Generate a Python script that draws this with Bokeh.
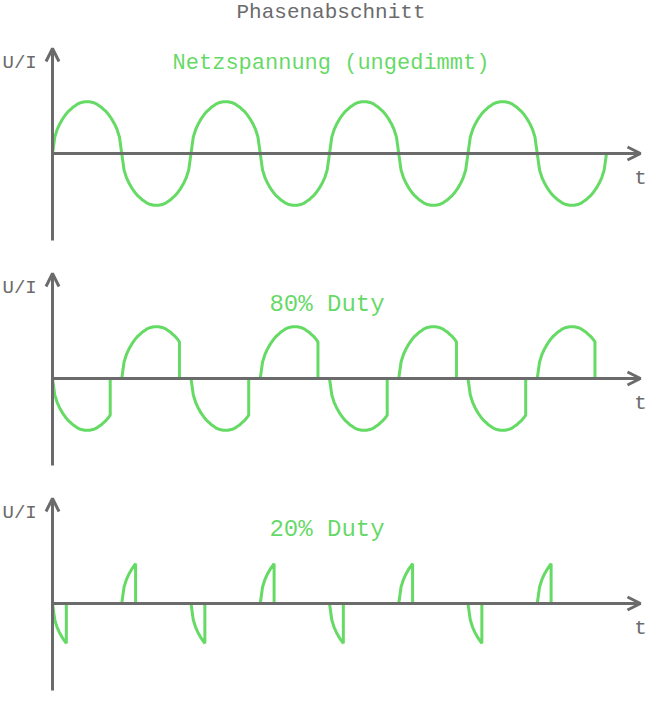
from bokeh.plotting import figure
from bokeh.models import Range1d, Arrow, OpenHead, Label, ColumnDataSource
from bokeh.embed import file_html
from bokeh.resources import INLINE

# ---------------- data ----------------
main_title = "Phasenabschnitt"
panel_titles = ["Netzspannung (ungedimmt)", "80% Duty", "20% Duty"]
y_label = "U/I"
x_label = "t"
# one half cycle of the (flat-topped) mains waveform, 30 steps per half cycle
half_wave = [0.0, 0.32, 0.46, 0.56, 0.64, 0.71, 0.77, 0.82, 0.86, 0.90, 0.93,
             0.96, 0.98, 0.99, 1.00, 1.00, 1.00, 0.99, 0.98, 0.96, 0.93, 0.90,
             0.86, 0.82, 0.77, 0.71, 0.64, 0.56, 0.46, 0.32, 0.0]
conducted_steps = [30, 25, 6]      # steps of each half cycle that are let through
start_polarity = [1, -1, -1]
n_half_cycles = 8

# ---------------- style / geometry ----------------
GRAY = "#6b6b6b"
GREEN = "#32cd32"
FONT = "Liberation Mono"
W, H = 650, 725
OFF = 0               # image offset of the figure
PX_T = 69.25          # pixels per half period
PX_U = 51.7           # pixels per amplitude unit
ORIGIN_X = 52         # image x of the time origin
ZERO_Y = [153, 378, 603]   # image y of each zero line
TITLE_SIZES = ["22px", "24px", "24px"]


def build(n_on, pol):
    n = len(half_wave) - 1
    xs, ys = [], []
    for h in range(n_half_cycles):
        s = pol if h % 2 == 0 else -pol
        for k in range(n_on + 1):
            xs.append(h + k / n)
            ys.append(s * half_wave[k])
        if n_on < n:
            xs.append(h + n_on / n)
            ys.append(0.0)
    if n_on < n:
        xs.append(float(n_half_cycles))
        ys.append(0.0)
    return xs, ys


def tx(xi):
    return (xi - ORIGIN_X) / PX_T


x_range = Range1d(tx(OFF), tx(OFF + W))
ranges = {}
for i, z in enumerate(ZERO_Y):
    ranges["p%d" % i] = Range1d(-(OFF + H - z) / PX_U, (z - OFF) / PX_U)

p = figure(width=W, height=H, x_range=x_range,
           y_range=Range1d(ranges["p0"].start, ranges["p0"].end),
           output_backend="svg", toolbar_location=None, min_border=0,
           x_axis_type=None, y_axis_type=None, outline_line_color=None)
p.grid.visible = False
p.extra_y_ranges = ranges

x_tip = tx(640)
y_bot = -(240 - 153) / PX_U
y_top = (153 - 48) / PX_U
for i, z in enumerate(ZERO_Y):
    rn = "p%d" % i
    p.add_layout(Arrow(x_start=0, y_start=0, x_end=x_tip, y_end=0,
                       line_color=GRAY, line_width=3,
                       end=OpenHead(size=13, line_color=GRAY, line_width=3),
                       y_range_name=rn))
    p.add_layout(Arrow(x_start=0, y_start=y_bot, x_end=0, y_end=y_top,
                       line_color=GRAY, line_width=3,
                       end=OpenHead(size=13, line_color=GRAY, line_width=3),
                       y_range_name=rn))

    xs, ys = build(conducted_steps[i], start_polarity[i])
    src = ColumnDataSource(dict(x=xs, y=ys))
    p.line("x", "y", source=src, line_color=GREEN, line_alpha=0.75,
           line_width=3, y_range_name=rn)

    # labels
    title_y = (153 - 63) / PX_U if i == 0 else (378 - 304) / PX_U
    title_x = tx(330.5) if i == 0 else tx(326.5)
    p.add_layout(Label(x=title_x, y=title_y, text=panel_titles[i],
                       text_font=FONT, text_font_size=TITLE_SIZES[i],
                       text_color=GREEN, text_alpha=0.75,
                       text_align="center", text_baseline="middle",
                       y_range_name=rn))
    p.add_layout(Label(x=tx(2), y=(153 - 62) / PX_U,
                       text=y_label, text_font=FONT, text_font_size="19px",
                       text_color=GRAY, text_align="left",
                       text_baseline="middle", y_range_name=rn))
    p.add_layout(Label(x=tx(640), y=(153 - 178) / PX_U,
                       text=x_label, text_font=FONT, text_font_size="21px",
                       text_color=GRAY, text_align="center",
                       text_baseline="middle", y_range_name=rn))

p.add_layout(Label(x=tx(330.5), y=(153 - 12) / PX_U,
                   text=main_title, text_font=FONT, text_font_size="21px",
                   text_color=GRAY, text_align="center",
                   text_baseline="middle", y_range_name="p0"))

open("out.html", "w").write(file_html(p, INLINE))
